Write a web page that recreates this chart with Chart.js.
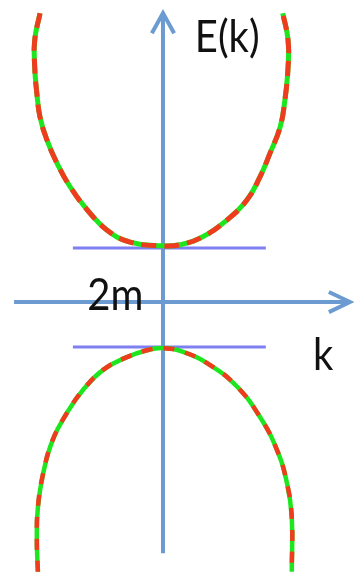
<!DOCTYPE html>
<html>
<head>
<meta charset="utf-8">
<script src="https://cdn.jsdelivr.net/npm/chart.js@4/dist/chart.umd.min.js"></script>
<style>
  html, body { margin: 0; padding: 0; background: #fff; }
  #wrap { width: 354px; height: 572px; }
</style>
</head>
<body>
<div id="wrap"><canvas id="chart"></canvas></div>
<script>
// energy bands, k and E in units of m
const upperK = [-2.32, -2.42, -2.42, -2.38, -2.32, -2.19, -2.00, -1.75, -1.43, -1.06, -0.62, 0, 0.32, 0.75, 1.21, 1.58, 1.83, 2.02, 2.21, 2.30, 2.36, 2.36, 2.26];
const upperE = [5.45, 4.94, 4.43, 3.94, 3.49, 3.06, 2.62, 2.17, 1.74, 1.36, 1.13, 1.06, 1.08, 1.23, 1.55, 1.92, 2.36, 2.81, 3.30, 3.81, 4.43, 4.94, 5.45];
const lowerK = [-2.36, -2.38, -2.36, -2.26, -2.08, -1.81, -1.51, -1.13, -0.68, -0.30, 0, 0.38, 0.89, 1.40, 1.83, 2.15, 2.34, 2.43, 2.43];
const lowerE = [-5.09, -4.49, -3.87, -3.23, -2.60, -2.09, -1.66, -1.28, -1.04, -0.91, -0.87, -0.94, -1.19, -1.60, -2.17, -2.79, -3.42, -4.06, -5.09];

// gap markers
const gapK = [-1.70, 1.94];
const gapTop = 1.02;
const gapBottom = -0.85;

// axes
const kAxis = [-2.81, 3.53];
const eAxis = [-4.74, 5.45];

const labels = [
  {text: 'E(k)', k: 0.60, e: 4.72},
  {text: '2m', k: -1.43, e: -0.15},
  {text: 'k', k: 2.83, e: -1.28}
];

function pts(xs, ys) {
  return xs.map((x, i) => ({x: x, y: ys[i]}));
}

const axisBlue = '#6b9bd0';
const gapBlue = '#7f7ff2';
const green = '#1ee61e';
const red = '#f03c1e';

function band(data, order, width, dash) {
  return [
    {data: data, borderColor: green, borderWidth: width, order: order + 1, tension: 0.45},
    {data: data, borderColor: red, borderWidth: width, borderDash: dash, order: order, tension: 0.45}
  ];
}

const labelPlugin = {
  id: 'labels',
  afterDatasetsDraw(chart) {
    const ctx = chart.ctx;
    const xs = chart.scales.x;
    const ys = chart.scales.y;
    ctx.fillStyle = '#111';
    ctx.font = '40px Lato';
    ctx.textBaseline = 'alphabetic';
    labels.forEach((l) => {
      ctx.save();
      ctx.translate(xs.getPixelForValue(l.k), ys.getPixelForValue(l.e));
      ctx.scale(1, 1.1);
      ctx.fillText(l.text, 0, 0);
      ctx.restore();
    });
  }
};

new Chart(document.getElementById('chart'), {
  type: 'scatter',
  data: {
    datasets: [
      {data: [{x: kAxis[0], y: 0}, {x: kAxis[1], y: 0}], borderColor: axisBlue, borderWidth: 4, order: 10},
      {data: [{x: 3.13, y: 0.19}, {x: kAxis[1], y: 0}, {x: 3.13, y: -0.19}], borderColor: axisBlue, borderWidth: 4, order: 10},
      {data: [{x: 0, y: eAxis[0]}, {x: 0, y: eAxis[1]}], borderColor: axisBlue, borderWidth: 4, order: 9},
      {data: [{x: -0.21, y: 5.07}, {x: 0, y: eAxis[1]}, {x: 0.21, y: 5.07}], borderColor: axisBlue, borderWidth: 4, order: 9},
      {data: [{x: gapK[0], y: gapTop}, {x: gapK[1], y: gapTop}], borderColor: gapBlue, borderWidth: 3, order: 8},
      {data: [{x: gapK[0], y: gapBottom}, {x: gapK[1], y: gapBottom}], borderColor: gapBlue, borderWidth: 3, order: 8},
      ...band(pts(upperK, upperE), 2, 5, [15, 8]),
      ...band(pts(lowerK, lowerE), 4, 4.5, [11, 11])
    ].map((d) => Object.assign({showLine: true, pointRadius: 0, borderCapStyle: 'butt', fill: false}, d))
  },
  options: {
    responsive: true,
    maintainAspectRatio: false,
    animation: false,
    layout: {padding: 0},
    plugins: {legend: {display: false}, tooltip: {enabled: false}},
    scales: {
      x: {type: 'linear', display: false, min: -3.075, max: 3.604},
      y: {type: 'linear', display: false, min: -5.094, max: 5.698}
    }
  },
  plugins: [labelPlugin]
});
</script>
</body>
</html>
